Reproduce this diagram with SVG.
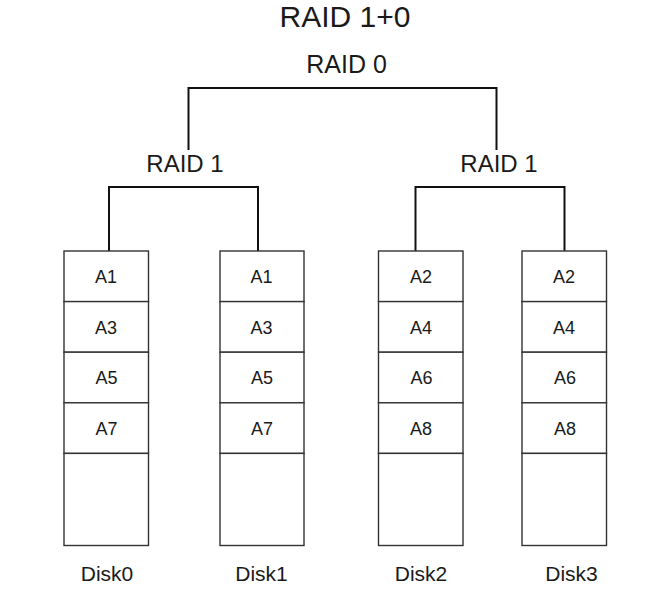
<svg xmlns="http://www.w3.org/2000/svg" width="647" height="597" viewBox="0 0 647 597">
<style>
text{font-family:"Liberation Sans",Arial,sans-serif;fill:#1a1a1a;text-anchor:middle}
.cell{fill:#fff;stroke:#333;stroke-width:1.4}
.lbl{font-size:18px}
.dl{font-size:21px}
.raid{font-size:24px}
.conn{fill:none;stroke:#111;stroke-width:2}
</style>
<rect width="647" height="597" fill="#fff"/>
<text x="345" y="27" style="font-size:30px">RAID 1+0</text>
<g id="raid0"><text class="raid" x="346.5" y="73" style="font-size:25px">RAID 0</text></g>
<g id="raid1a"><text class="raid" x="185" y="172">RAID 1</text></g>
<g id="raid1b"><text class="raid" x="499" y="172">RAID 1</text></g>
<g id="connectors">
<path class="conn" d="M188.5 150 V88 H496.5 V150"/>
<path class="conn" d="M109 251 V187 H258 V251"/>
<path class="conn" d="M415.5 251 V187 H564.5 V251"/>
</g>
<g id="disk0">
<rect class="cell" x="64" y="251" width="84.5" height="50.6"/>
<rect class="cell" x="64" y="301.6" width="84.5" height="50.6"/>
<rect class="cell" x="64" y="352.2" width="84.5" height="50.6"/>
<rect class="cell" x="64" y="402.8" width="84.5" height="50.6"/>
<rect class="cell" x="64" y="453.4" width="84.5" height="92.1"/>
<text class="lbl" x="106" y="283">A1</text>
<text class="lbl" x="106" y="333.6">A3</text>
<text class="lbl" x="106.5" y="384.2">A5</text>
<text class="lbl" x="106.5" y="434.8">A7</text>
<text class="dl" x="107" y="581">Disk0</text>
</g>
<g id="disk1">
<rect class="cell" x="220" y="251" width="84" height="50.6"/>
<rect class="cell" x="220" y="301.6" width="84" height="50.6"/>
<rect class="cell" x="220" y="352.2" width="84" height="50.6"/>
<rect class="cell" x="220" y="402.8" width="84" height="50.6"/>
<rect class="cell" x="220" y="453.4" width="84" height="92.1"/>
<text class="lbl" x="261.5" y="283">A1</text>
<text class="lbl" x="261.5" y="333.6">A3</text>
<text class="lbl" x="262" y="384.2">A5</text>
<text class="lbl" x="262" y="434.8">A7</text>
<text class="dl" x="261.5" y="581">Disk1</text>
</g>
<g id="disk2">
<rect class="cell" x="378.5" y="251" width="84.5" height="50.6"/>
<rect class="cell" x="378.5" y="301.6" width="84.5" height="50.6"/>
<rect class="cell" x="378.5" y="352.2" width="84.5" height="50.6"/>
<rect class="cell" x="378.5" y="402.8" width="84.5" height="50.6"/>
<rect class="cell" x="378.5" y="453.4" width="84.5" height="92.1"/>
<text class="lbl" x="421" y="283">A2</text>
<text class="lbl" x="421" y="333.6">A4</text>
<text class="lbl" x="421.5" y="384.2">A6</text>
<text class="lbl" x="421" y="434.8">A8</text>
<text class="dl" x="421" y="581">Disk2</text>
</g>
<g id="disk3">
<rect class="cell" x="522" y="251" width="84.5" height="50.6"/>
<rect class="cell" x="522" y="301.6" width="84.5" height="50.6"/>
<rect class="cell" x="522" y="352.2" width="84.5" height="50.6"/>
<rect class="cell" x="522" y="402.8" width="84.5" height="50.6"/>
<rect class="cell" x="522" y="453.4" width="84.5" height="92.1"/>
<text class="lbl" x="564" y="283">A2</text>
<text class="lbl" x="564" y="333.6">A4</text>
<text class="lbl" x="565" y="384.2">A6</text>
<text class="lbl" x="565" y="434.8">A8</text>
<text class="dl" x="571.5" y="581">Disk3</text>
</g>
</svg>
